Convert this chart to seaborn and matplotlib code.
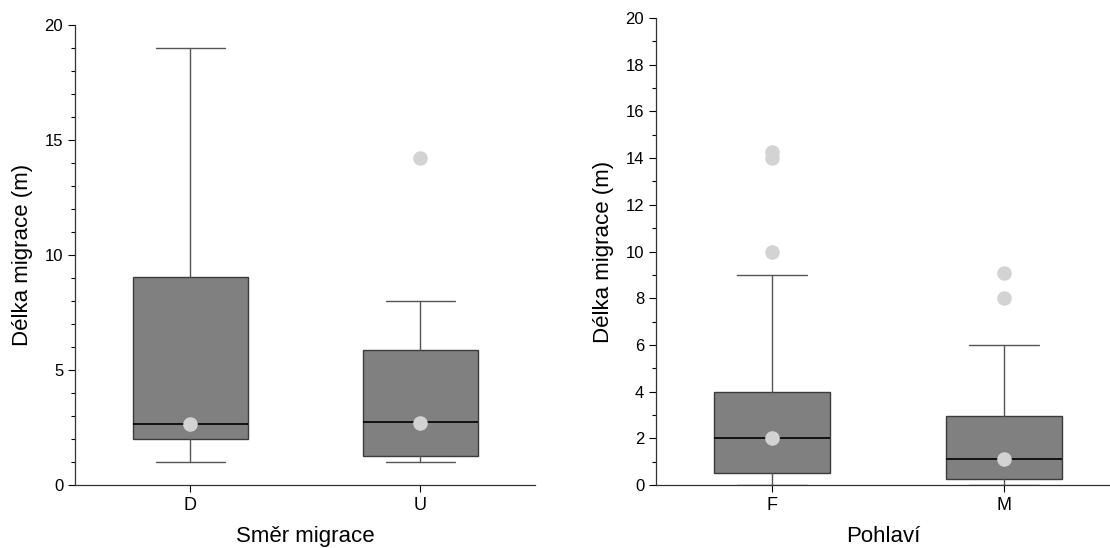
"""Box plots of migration length by direction and by sex"""
import matplotlib
matplotlib.use("Agg")
import matplotlib.pyplot as plt
from matplotlib.ticker import MultipleLocator
import pandas as pd
import seaborn as sns


# Left panel: direction of migration
DIR_LABELS = ["D", "U"]
DIR_WHISLO = [1.0, 1.0]
DIR_Q1 = [2.0, 1.25]
DIR_MED = [2.67, 2.72]
DIR_Q3 = [9.05, 5.88]
DIR_WHISHI = [19.0, 8.0]
DIR_MEAN = [2.67, 2.70]
DIR_FLIERS = [[], [14.2]]

# Right panel: sex
SEX_LABELS = ["F", "M"]
SEX_WHISLO = [0.0, 0.0]
SEX_Q1 = [0.5, 0.25]
SEX_MED = [2.0, 1.12]
SEX_Q3 = [4.0, 2.95]
SEX_WHISHI = [9.0, 6.0]
SEX_MEAN = [2.0, 1.12]
SEX_FLIERS = [[10.0, 14.0, 14.25], [8.0, 9.1]]

BOX_FILL = "#808080"
BOX_EDGE = "#3c3c3c"
DOT_COLOR = "#d3d3d3"


def box_panel(ax, labels, whislo, q1, med, q3, whishi, means, fliers,
              xlabel, ymajor, xmax):
    """Draws one box panel from precomputed statistics"""
    stats = []
    for i, lab in enumerate(labels):
        stats.append(dict(label=lab, whislo=whislo[i], q1=q1[i], med=med[i],
                          q3=q3[i], whishi=whishi[i], fliers=[]))
    ax.bxp(stats, positions=range(len(labels)), widths=0.5,
           patch_artist=True, showfliers=False, showmeans=False,
           boxprops=dict(facecolor=BOX_FILL, edgecolor=BOX_EDGE, linewidth=1),
           medianprops=dict(color="black", linewidth=1.2),
           whiskerprops=dict(color="#555555", linewidth=1),
           capprops=dict(color="#555555", linewidth=1), capwidths=0.3)

    # light grey dots: outliers and centre markers
    xs, ys = [], []
    for i, vals in enumerate(fliers):
        xs += [i] * len(vals)
        ys += vals
    xs += list(range(len(labels)))
    ys += means
    dots = pd.DataFrame({"x": xs, "y": ys})
    sns.scatterplot(data=dots, x="x", y="y", ax=ax, color=DOT_COLOR,
                    s=110, linewidth=0, zorder=5, legend=False)

    ax.set_xlim(-0.5, xmax)
    ax.set_ylim(0, 20)
    ax.set_xticks(range(len(labels)))
    ax.set_xticklabels(labels, fontsize=13)
    ax.yaxis.set_major_locator(MultipleLocator(ymajor))
    ax.yaxis.set_minor_locator(MultipleLocator(1))
    ax.tick_params(axis="y", which="major", labelsize=12, length=5, width=0.8,
                   colors="black")
    ax.tick_params(axis="y", which="minor", length=3, width=0.8,
                   colors="black")
    ax.tick_params(axis="x", length=5, width=0.8, colors="black")
    ax.set_xlabel(xlabel, fontsize=16, labelpad=9, color="black")
    ax.set_ylabel("Délka migrace (m)", fontsize=16, labelpad=8, color="black")
    sns.despine(ax=ax)
    for sp in ("left", "bottom"):
        ax.spines[sp].set_linewidth(0.9)
        ax.spines[sp].set_color("#333333")


def main():
    sns.set_style("ticks")
    plt.rcParams["font.family"] = ["Liberation Sans", "DejaVu Sans"]

    fig = plt.figure(figsize=(11.1, 5.48), dpi=100)
    ax0 = fig.add_axes([75 / 1110, 63 / 548, 460 / 1110, 460 / 548])
    box_panel(ax0, DIR_LABELS, DIR_WHISLO, DIR_Q1, DIR_MED, DIR_Q3,
              DIR_WHISHI, DIR_MEAN, DIR_FLIERS, "Směr migrace", 5, 1.5)

    ax1 = fig.add_axes([656 / 1110, 63 / 548, 454 / 1110, 467 / 548])
    box_panel(ax1, SEX_LABELS, SEX_WHISLO, SEX_Q1, SEX_MED, SEX_Q3,
              SEX_WHISHI, SEX_MEAN, SEX_FLIERS, "Pohlaví", 2, 1.457)

    fig.savefig("out.png", dpi=100)


if __name__ == "__main__":
    main()
